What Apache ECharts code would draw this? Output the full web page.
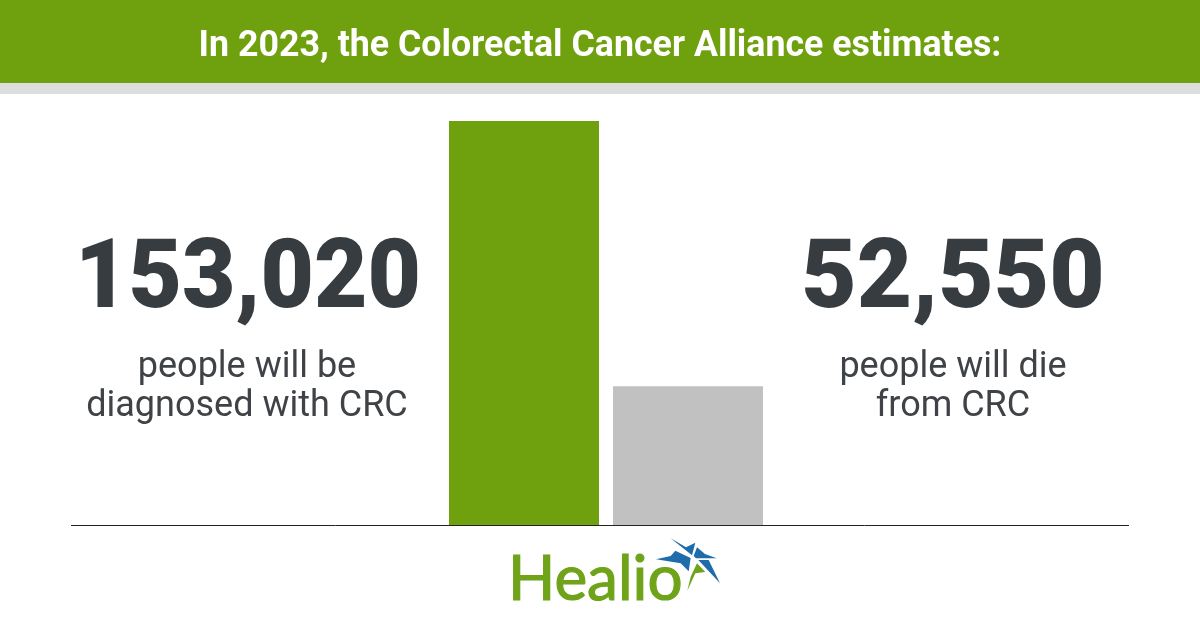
<!DOCTYPE html>
<html><head><meta charset="utf-8">
<style>html,body{margin:0;padding:0;background:#fff}#c{width:1200px;height:630px}</style>
<script src="https://cdn.jsdelivr.net/npm/echarts@6/dist/echarts.min.js"></script>
</head><body><div id="c"></div>
<script>
const categories = ['Diagnosed', 'Deaths'];
const values = [153020, 52550];
const barColors = ['#6fa00e', '#c1c1c1'];
const title = 'In 2023, the Colorectal Cancer Alliance estimates:';
const leftNumber = '153,020';
const rightNumber = '52,550';
const leftCaption = 'people will be\ndiagnosed with CRC';
const rightCaption = 'people will die\nfrom CRC';
const chart = echarts.init(document.getElementById('c'), null, {renderer:'canvas'});
const F = 'Roboto';
const capStyle = {fill:'#3f4347',font:'400 36px '+F,lineHeight:39,align:'center',verticalAlign:'middle'};
const logoPoly = (pts, fill) => ({type:'polygon',x:650,y:530,scaleX:1/3,scaleY:1/3,shape:{points:pts},style:{fill}});
chart.setOption({
  animation:false,
  backgroundColor:'#fff',
  grid:{left:442,top:121,width:328,height:404},
  xAxis:{type:'category',data:categories,axisLine:{show:false},axisTick:{show:false},axisLabel:{show:false}},
  yAxis:{type:'value',min:0,max:153020,show:false,splitLine:{show:false}},
  series:[{type:'bar',barWidth:150,
    data:values.map((v,i)=>({value:v,itemStyle:{color:barColors[i]}}))}],
  graphic:[
    {type:'rect',shape:{x:0,y:0,width:1200,height:83},style:{fill:'#6fa00e'}},
    {type:'rect',shape:{x:0,y:83,width:1200,height:11},style:{fill:'#dcdddd'}},
    {type:'text',x:600,y:47,scaleX:0.993,style:{text:title,fill:'#fff',font:'700 36px '+F,align:'center',verticalAlign:'middle'}},
    {type:'line',shape:{x1:71,y1:525.5,x2:1129,y2:525.5},style:{stroke:'#222',lineWidth:1}},
    {type:'text',x:248,y:283,scaleX:0.952,style:{text:leftNumber,fill:'#373c40',font:'900 97px '+F,align:'center',verticalAlign:'middle'}},
    {type:'text',x:953,y:283,scaleX:0.987,style:{text:rightNumber,fill:'#373c40',font:'900 97px '+F,align:'center',verticalAlign:'middle'}},
    {type:'text',x:247,y:387,style:Object.assign({text:leftCaption},capStyle)},
    {type:'text',x:953,y:387,style:Object.assign({text:rightCaption},capStyle)},
    {type:'text',x:508,y:580,style:{text:'Healio',fill:'#6fa31a',stroke:'#6fa31a',lineWidth:1.2,font:'400 62px Lato',align:'left',verticalAlign:'middle'}},
    logoPoly([[62,25],[108,52],[136,38],[126,76]],'#1f6cab'),
    logoPoly([[18,88],[62,78],[76,62],[122,84],[116,124],[92,100]],'#1f6cab'),
    logoPoly([[141,52],[165,72],[200,85],[138,85],[131,78]],'#1f6cab'),
    logoPoly([[145,90],[176,90],[210,160]],'#1f6cab'),
    logoPoly([[141,100],[166,126],[136,130],[112,182],[122,140]],'#6fa31a')
  ]
});
</script></body></html>
